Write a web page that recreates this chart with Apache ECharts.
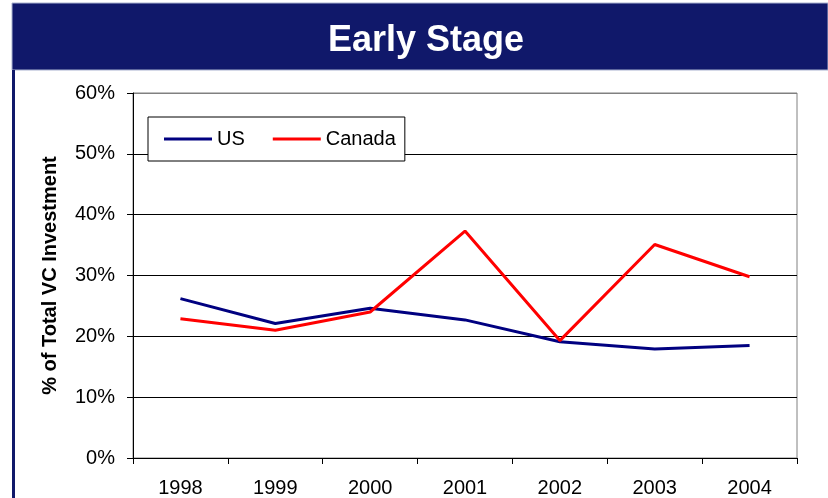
<!DOCTYPE html>
<html><head><meta charset="utf-8">
<script src="https://cdn.jsdelivr.net/npm/echarts@6/dist/echarts.min.js"></script>
<style>html,body{margin:0;padding:0;background:#fff}#c{width:828px;height:498px}</style>
</head><body><div id="c"></div>
<script>
const years = ['1998','1999','2000','2001','2002','2003','2004'];
const usValues = [26.2, 22.1, 24.6, 22.7, 19.1, 17.9, 18.5];
const canadaValues = [22.9, 21.0, 24.0, 37.3, 19.3, 35.1, 29.8];
const yTicks = [0, 10, 20, 30, 40, 50, 60];
const titleText = 'Early Stage';
const yAxisName = '% of Total VC Investment';

const FONT = '"Liberation Sans", Arial, sans-serif';
const chart = echarts.init(document.getElementById('c'), null, {renderer: 'canvas'});
chart.setOption({
  animation: false,
  backgroundColor: '#fff',
  graphic: [
    {type: 'rect', z: 0, shape: {x: 12, y: 3, width: 816, height: 67}, style: {fill: '#10186a', stroke: '#a9b2cf', lineWidth: 1}},
    {type: 'rect', z: 0, shape: {x: 12, y: 70, width: 3, height: 428}, style: {fill: '#10186a'}}
  ],
  title: {
    text: titleText, left: 421, top: 18, textAlign: 'center',
    textStyle: {color: '#fff', fontSize: 36, fontWeight: 'bold', fontFamily: FONT}
  },
  legend: {
    left: 148, top: 117,
    padding: [12, 9, 12, 16],
    backgroundColor: '#fff', borderColor: '#000', borderWidth: 1, borderRadius: 0,
    icon: 'rect', itemWidth: 48, itemHeight: 3, itemGap: 28,
    textStyle: {fontSize: 20, color: '#000', fontFamily: FONT, padding: [0,0,0,0]},
    data: ['US', 'Canada']
  },
  grid: {left: 133, right: 31, top: 93, bottom: 40, show: true, borderColor: '#808080', borderWidth: 1, backgroundColor: 'transparent'},
  xAxis: {
    type: 'category', data: years, boundaryGap: true,
    axisLine: {lineStyle: {color: '#000', width: 1}},
    axisTick: {show: true, interval: 0, length: 6, lineStyle: {color: '#000'}},
    axisLabel: {margin: 20, fontSize: 20, color: '#000', fontFamily: FONT, interval: 0}
  },
  yAxis: {
    type: 'value', min: yTicks[0], max: yTicks[yTicks.length-1], interval: 10,
    name: yAxisName, nameLocation: 'middle', nameGap: 73, nameRotate: 90,
    nameTextStyle: {fontSize: 20, fontWeight: 'bold', color: '#000', fontFamily: FONT},
    axisLine: {show: true, lineStyle: {color: '#000', width: 1}},
    axisTick: {show: true, length: 6, lineStyle: {color: '#000'}},
    axisLabel: {margin: 18, fontSize: 20, color: '#000', fontFamily: FONT, formatter: '{value}%'},
    splitLine: {show: true, lineStyle: {color: ['#000','#000','#000','#000','#000','#000','#808080'], width: 1}}
  },
  series: [
    {name: 'US', type: 'line', data: usValues, symbol: 'none', lineStyle: {color: '#000080', width: 3}, itemStyle: {color: '#000080'}, z: 3},
    {name: 'Canada', type: 'line', data: canadaValues, symbol: 'none', lineStyle: {color: '#ff0000', width: 3}, itemStyle: {color: '#ff0000'}, z: 4}
  ]
});
</script></body></html>
